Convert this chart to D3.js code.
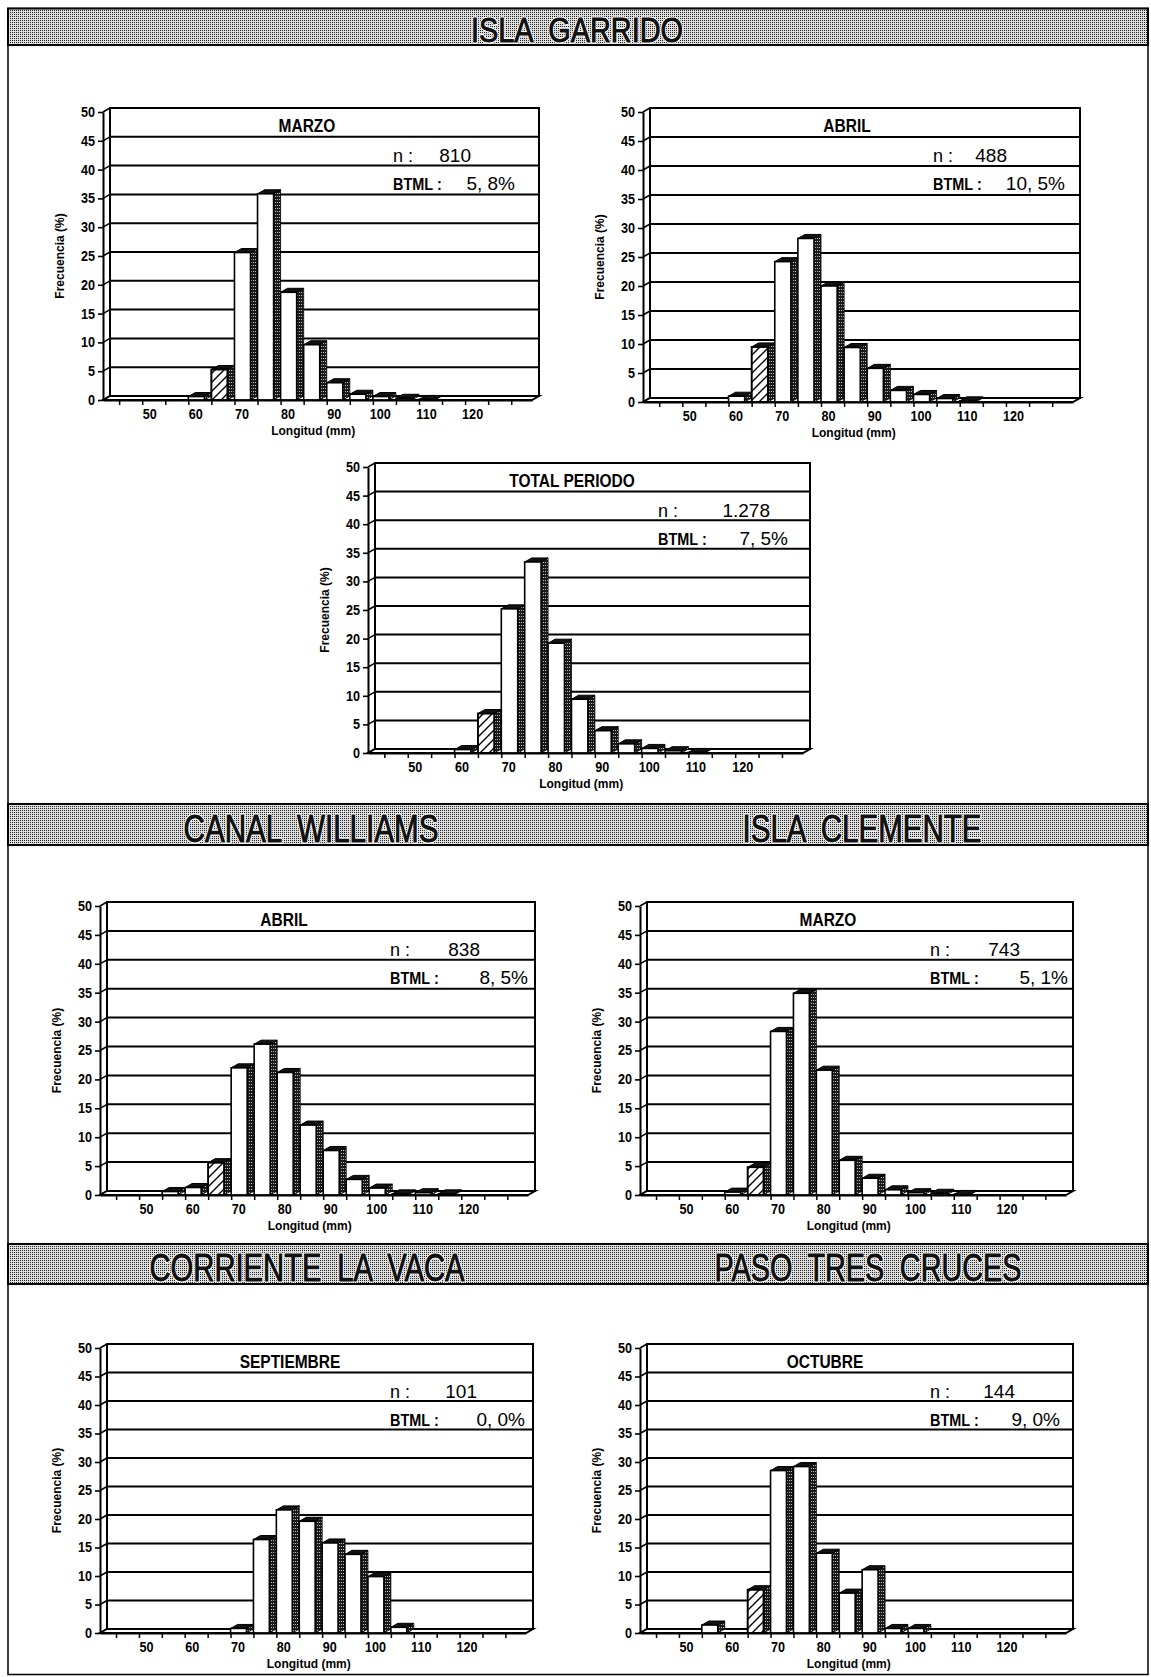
<!DOCTYPE html>
<html><head><meta charset="utf-8">
<script src="https://cdn.jsdelivr.net/npm/d3@7"></script>
<style>body{margin:0;background:#fff}svg{display:block}</style>
</head><body><svg id="c" width="1151" height="1677"></svg>
<script>
// ---------------- DATA ----------------
const bins = [45,50,55,60,65,70,75,80,85,90,95,100,105,110,115,120,125]; // bin lower edges (mm), width 5
const binWidth = 5;
const xTickLabels = [50,60,70,80,90,100,110,120];
const yTicks = [0,5,10,15,20,25,30,35,40,45,50];
const btmlBin = 65; // hatched (below minimum legal size) class

const garridoMarzo   = [0,0,0,0.6,5.3,25.6,35.8,18.7,9.6,3.0,1.0,0.6,0.3,0.1,0,0,0];
const garridoAbril   = [0,0,0,1.0,9.5,24.2,28.2,20.0,9.4,5.8,2.0,1.3,0.6,0.2,0,0,0];
const garridoTotal   = [0,0,0,0.6,6.9,25.2,33.4,19.2,9.4,3.9,1.6,0.8,0.4,0.1,0,0,0];
const williamsAbril  = [0,0,0.6,1.3,5.6,22.0,26.1,21.2,12.1,7.7,2.7,1.2,0.2,0.4,0.2,0,0];
const clementeMarzo  = [0,0,0,0.5,4.8,28.3,34.9,21.6,6.0,2.9,0.9,0.4,0.3,0.1,0,0,0];
const vacaSeptiembre = [0,0,0,0,0,0.8,16.4,21.6,19.6,15.8,13.8,9.9,1.0,0,0,0,0];
const crucesOctubre  = [0,0,1.4,0,7.6,28.5,29.2,14.0,7.0,11.1,0.8,0.8,0,0,0,0,0];

const panelSeries = [garridoMarzo, garridoAbril, garridoTotal, williamsAbril, clementeMarzo, vacaSeptiembre, crucesOctubre];
const panelTitles = ["MARZO","ABRIL","TOTAL PERIODO","ABRIL","MARZO","SEPTIEMBRE","OCTUBRE"];
const panelN      = ["810","488","1.278","838","743","101","144"];
const panelBTML   = ["5, 8%","10, 5%","7, 5%","8, 5%","5, 1%","0, 0%","9, 0%"];
const bannerLabels = [["ISLA GARRIDO"],["CANAL WILLIAMS","ISLA CLEMENTE"],["CORRIENTE LA VACA","PASO TRES CRUCES"]];
const yAxisTitle = "Frecuencia (%)";
const xAxisTitle = "Longitud (mm)";

// ---------------- LAYOUT ----------------
const layout = [
  {x0:103, top:112, zero:400,  w:429, tx:204, nEnd:368, bEnd:412},
  {x0:643, top:112, zero:402,  w:430, tx:204, nEnd:364, bEnd:422},
  {x0:368, top:467, zero:753,  w:435, tx:204, nEnd:402, bEnd:420},
  {x0:100, top:906, zero:1195, w:428, tx:184, nEnd:380, bEnd:428},
  {x0:640, top:906, zero:1195, w:426, tx:188, nEnd:380, bEnd:428},
  {x0:100, top:1348, zero:1633, w:426, tx:190, nEnd:377, bEnd:425},
  {x0:640, top:1348, zero:1633, w:426, tx:185, nEnd:375, bEnd:420}
];
const bannerLayout = [
  {y:8.5, h:36.5, texts:[{cx:577, w:212}]},
  {y:804, h:41,   texts:[{cx:311, w:255},{cx:862, w:239}]},
  {y:1244, h:40,  texts:[{cx:307, w:315},{cx:868, w:307}]}
];
const FONT = "'Liberation Sans', Arial, sans-serif";
const DX = 7, DY = 4;

const svg = d3.select("#c");
const defs = svg.append("defs");
// stipple for banners
const st = defs.append("pattern").attr("id","stip").attr("width",2).attr("height",2).attr("patternUnits","userSpaceOnUse");
st.append("rect").attr("width",2).attr("height",2).attr("fill","#dedede");
st.append("rect").attr("width",1).attr("height",1).attr("fill","#222");
// dark stipple for bar sides
const sd = defs.append("pattern").attr("id","side").attr("width",2).attr("height",3).attr("patternUnits","userSpaceOnUse");
sd.append("rect").attr("width",2).attr("height",3).attr("fill","#1a1a1a");
sd.append("rect").attr("x",1).attr("y",1).attr("width",1).attr("height",1).attr("fill","#bbb");
// hatch
const ht = defs.append("pattern").attr("id","hatch").attr("width",9).attr("height",9).attr("patternUnits","userSpaceOnUse");
ht.append("path").attr("d","M0,9 L9,0 M-2,2 L2,-2 M7,11 L11,7").attr("stroke","#000").attr("stroke-width",1.4);

function condense(sel, f){
  sel.each(function(){
    const L = this.getComputedTextLength();
    d3.select(this).attr("textLength", L*f).attr("lengthAdjust","spacingAndGlyphs");
  });
}

// outer border
svg.append("rect").attr("x",8).attr("y",8.5).attr("width",1140).attr("height",1666)
  .attr("fill","none").attr("stroke","#000").attr("stroke-width",1.5);

// banners
bannerLayout.forEach((b,i)=>{
  svg.append("rect").attr("x",8).attr("y",b.y).attr("width",1140).attr("height",b.h)
    .attr("fill","url(#stip)").attr("stroke","#000").attr("stroke-width",2);
  b.texts.forEach((t,j)=>{
    svg.append("text").attr("x",t.cx).attr("y",b.y+b.h-3)
      .attr("text-anchor","middle").attr("font-family",FONT).attr("font-size",b.h*0.95)
      .attr("word-spacing",10)
      .attr("fill","#111").attr("stroke","#fff").attr("stroke-width",3).attr("paint-order","stroke")
      .attr("stroke-linejoin","round")
      .attr("textLength",t.w).attr("lengthAdjust","spacingAndGlyphs")
      .text(bannerLabels[i][j]);
    // thicken glyphs slightly
    svg.append("text").attr("x",t.cx).attr("y",b.y+b.h-3)
      .attr("text-anchor","middle").attr("font-family",FONT).attr("font-size",b.h*0.95)
      .attr("word-spacing",10)
      .attr("fill","#111").attr("stroke","#111").attr("stroke-width",0.8)
      .attr("textLength",t.w).attr("lengthAdjust","spacingAndGlyphs")
      .text(bannerLabels[i][j]);
  });
});

function drawPanel(i){
  const L = layout[i], vals = panelSeries[i];
  const g = svg.append("g");
  const x = d3.scaleLinear().domain([41.5,134.5]).range([L.x0, L.x0+L.w]);
  const y = d3.scaleLinear().domain([0,50]).range([L.zero, L.top]);

  // back wall
  g.append("rect").attr("x",L.x0+DX).attr("y",L.top-DY).attr("width",L.w).attr("height",L.zero-L.top)
    .attr("fill","#fff").attr("stroke","#000").attr("stroke-width",2);
  // gridlines on back wall
  g.selectAll("line.grid").data(yTicks.filter(v=>v>0&&v<50)).join("line").attr("class","grid")
    .attr("x1",L.x0+DX).attr("x2",L.x0+L.w+DX).attr("y1",d=>y(d)-DY).attr("y2",d=>y(d)-DY)
    .attr("stroke","#000").attr("stroke-width",2);
  // side wall diagonals
  g.selectAll("line.diag").data(yTicks).join("line").attr("class","diag")
    .attr("x1",L.x0).attr("x2",L.x0+DX).attr("y1",d=>y(d)).attr("y2",d=>y(d)-DY)
    .attr("stroke","#000").attr("stroke-width",1.5);
  // floor
  g.append("polygon")
    .attr("points",[[L.x0,L.zero],[L.x0+L.w,L.zero],[L.x0+L.w+DX,L.zero-DY],[L.x0+DX,L.zero-DY]].map(p=>p.join(",")).join(" "))
    .attr("fill","#fff").attr("stroke","#000").attr("stroke-width",2);

  // bars
  const data = bins.map((b,k)=>({b, v:vals[k]})).filter(d=>d.v>0);
  const bars = g.selectAll("g.bar").data(data).join("g").attr("class","bar");
  bars.append("polygon") // side
    .attr("points",d=>{const xr=x(d.b+binWidth)-DX, yt=y(d.v);
      return [[xr,yt],[xr+DX,yt-DY],[xr+DX,L.zero-DY],[xr,L.zero]].map(p=>p.join(",")).join(" ");})
    .attr("fill","url(#side)").attr("stroke","#000").attr("stroke-width",0.8);
  bars.append("polygon") // top
    .attr("points",d=>{const xl=x(d.b), xr=x(d.b+binWidth)-DX, yt=y(d.v);
      return [[xl,yt],[xr,yt],[xr+DX,yt-DY],[xl+DX,yt-DY]].map(p=>p.join(",")).join(" ");})
    .attr("fill","#111").attr("stroke","#000").attr("stroke-width",1);
  bars.append("rect") // front
    .attr("x",d=>x(d.b)).attr("y",d=>y(d.v)).attr("width",d=>x(d.b+binWidth)-DX-x(d.b)).attr("height",d=>L.zero-y(d.v))
    .attr("fill","#fff").attr("stroke","#000").attr("stroke-width",1.6);
  bars.filter(d=>d.b===btmlBin).append("rect")
    .attr("x",d=>x(d.b)).attr("y",d=>y(d.v)).attr("width",d=>x(d.b+binWidth)-DX-x(d.b)).attr("height",d=>L.zero-y(d.v))
    .attr("fill","url(#hatch)").attr("stroke","#000").attr("stroke-width",1.6);

  // y axis
  const ya = g.append("g").attr("transform",`translate(${L.x0},0)`)
    .call(d3.axisLeft(y).tickValues(yTicks).tickSize(5).tickSizeOuter(0).tickPadding(3));
  ya.select(".domain").attr("stroke-width",2);
  ya.selectAll(".tick line").attr("stroke-width",1.6);
  ya.selectAll("text").attr("font-family",FONT).attr("font-size",14).attr("font-weight","bold").attr("fill","#000")
    .call(condense,0.9);
  // x axis ticks at bin edges
  const edges = bins.concat([bins[bins.length-1]+binWidth]);
  const xa = g.append("g").attr("transform",`translate(0,${L.zero})`)
    .call(d3.axisBottom(x).tickValues(edges).tickSize(5).tickSizeOuter(0).tickFormat(""));
  xa.select(".domain").attr("stroke-width",2);
  xa.selectAll(".tick line").attr("stroke-width",1.5);
  const xl = g.append("g").attr("transform",`translate(7,${L.zero})`)
    .call(d3.axisBottom(x).tickValues(xTickLabels).tickSize(0).tickPadding(9).tickFormat(d3.format("d")));
  xl.select(".domain").remove();
  xl.selectAll("text").attr("font-family",FONT).attr("font-size",14).attr("font-weight","bold").attr("fill","#000")
    .call(condense,0.9);

  // axis titles
  g.append("text").attr("transform",`translate(${L.x0-39},${(L.top+L.zero)/2}) rotate(-90)`)
    .attr("text-anchor","middle").attr("font-family",FONT).attr("font-size",12).attr("font-weight","bold")
    .text(yAxisTitle);
  g.append("text").attr("x",L.x0+L.w*0.49).attr("y",L.zero+35).attr("text-anchor","middle")
    .attr("font-family",FONT).attr("font-size",12).attr("font-weight","bold").text(xAxisTitle);

  // panel title
  g.append("text").attr("x",L.x0+L.tx).attr("y",L.top+20).attr("text-anchor","middle")
    .attr("font-family",FONT).attr("font-size",18).attr("font-weight","bold").text(panelTitles[i])
    .call(condense,0.86);
  // n and BTML
  g.append("text").attr("x",L.x0+290).attr("y",L.top+50).attr("font-family",FONT).attr("font-size",18)
    .text("n :");
  g.append("text").attr("x",L.x0+L.nEnd).attr("y",L.top+50).attr("text-anchor","end").attr("font-family",FONT).attr("font-size",19)
    .text(panelN[i]);
  g.append("text").attr("x",L.x0+290).attr("y",L.top+78).attr("font-family",FONT).attr("font-size",17).attr("font-weight","bold")
    .text("BTML :").call(condense,0.85);
  g.append("text").attr("x",L.x0+L.bEnd).attr("y",L.top+78).attr("text-anchor","end").attr("font-family",FONT).attr("font-size",19)
    .text(panelBTML[i]);
}
layout.forEach((_,i)=>drawPanel(i));
</script></body></html>
